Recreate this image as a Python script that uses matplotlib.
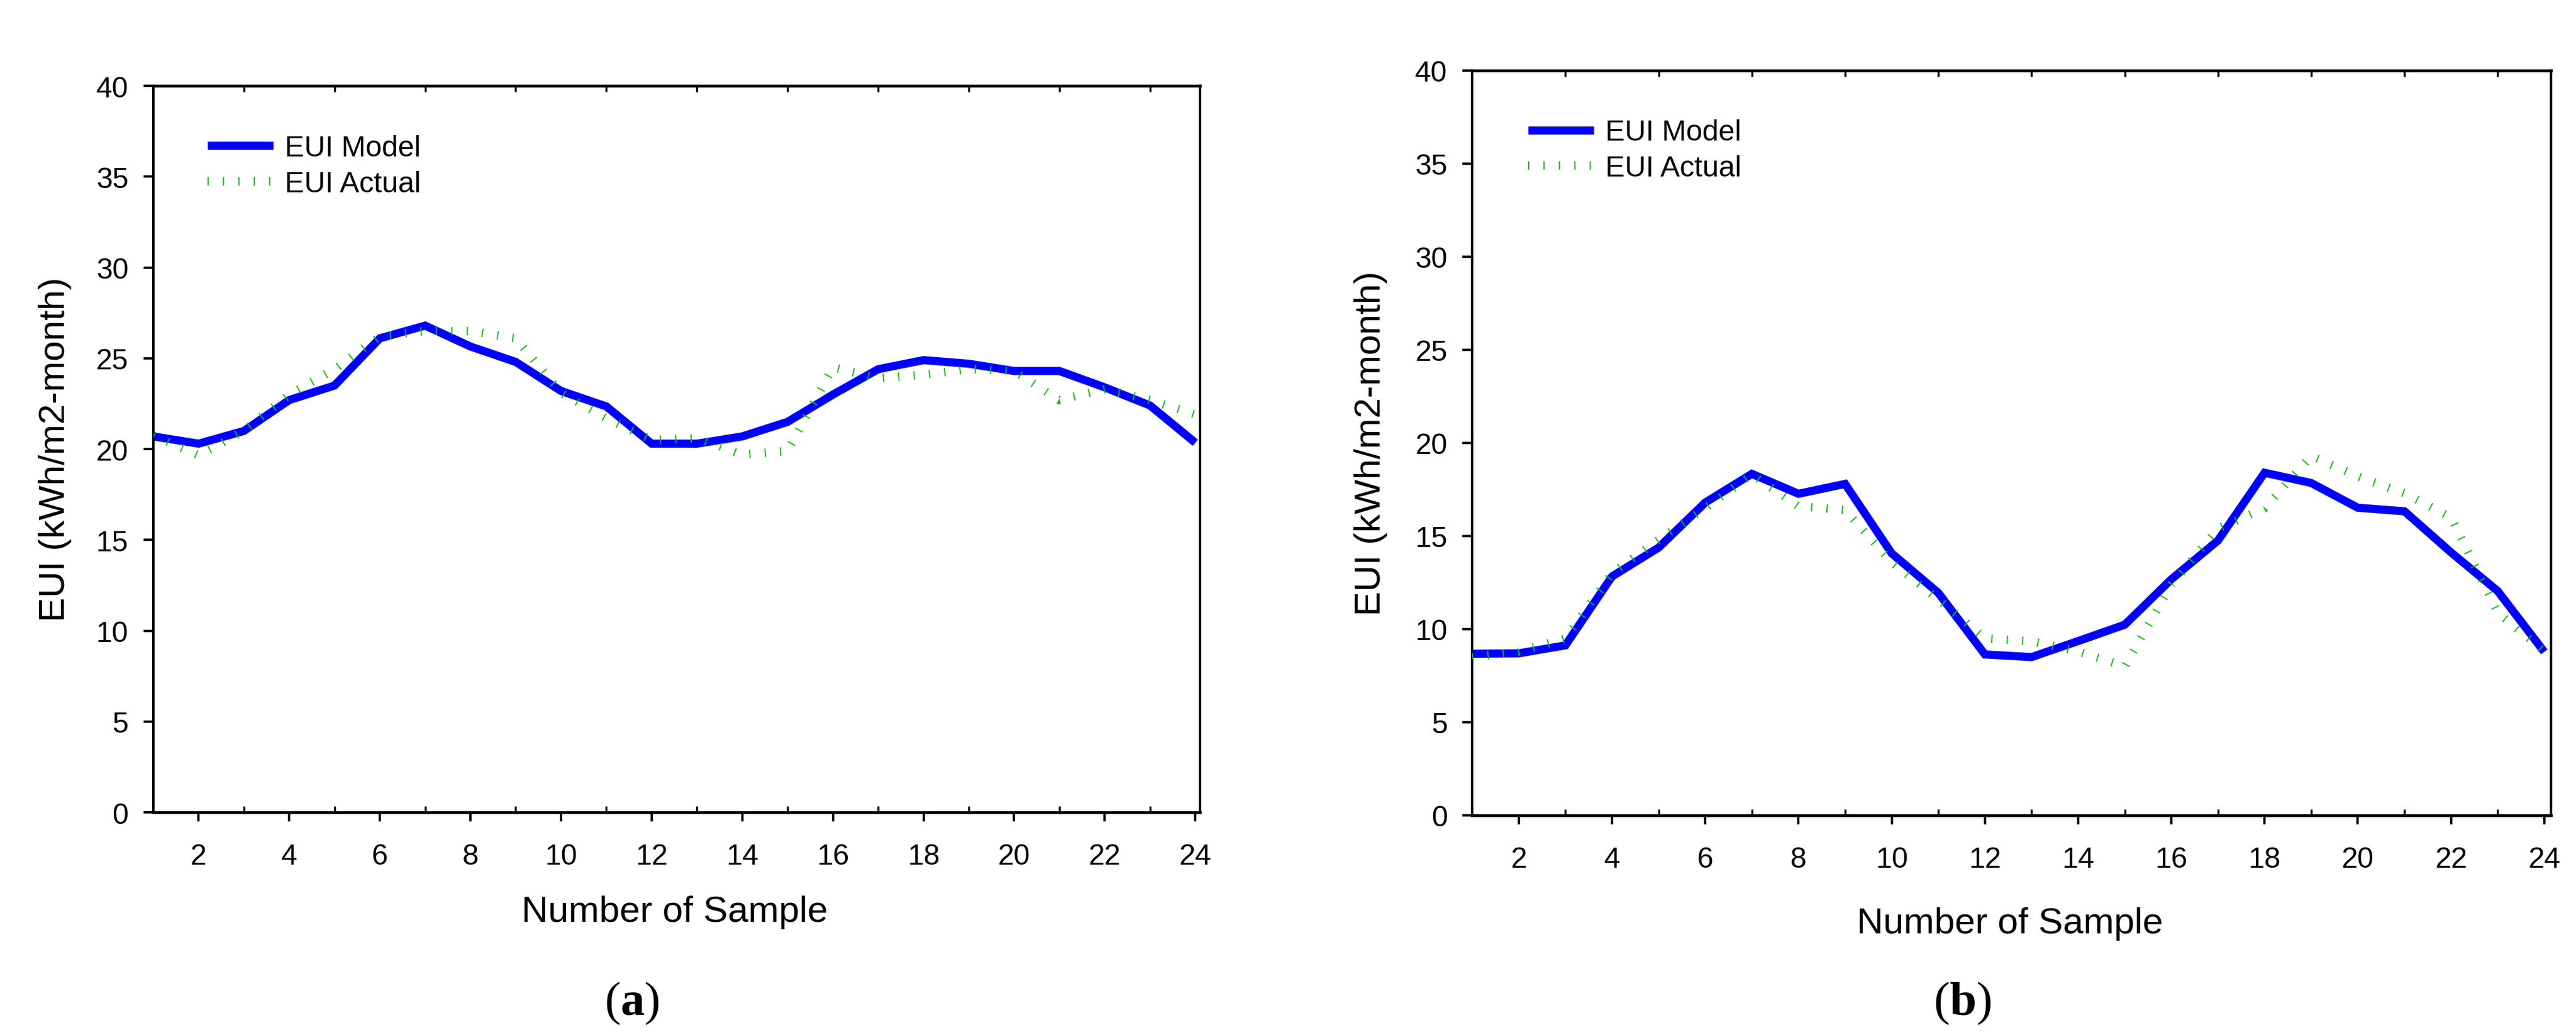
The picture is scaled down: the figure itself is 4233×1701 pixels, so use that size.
import matplotlib
matplotlib.use("Agg")
import matplotlib.pyplot as plt
from matplotlib.ticker import FixedLocator

plt.rcParams['font.family'] = ['Liberation Sans', 'DejaVu Sans']
plt.rcParams['mathtext.fontset'] = 'custom'
plt.rcParams['mathtext.rm'] = 'Liberation Serif'
plt.rcParams['mathtext.bf'] = 'Liberation Serif:bold'

# sample numbers
samples = list(range(1, 25))

# panel (a)
model_a = [20.7, 20.3, 21.0, 22.7, 23.5, 26.1, 26.8, 25.65, 24.8, 23.2, 22.35, 20.3,
           20.3, 20.7, 21.5, 23.0, 24.4, 24.9, 24.7, 24.3, 24.3, 23.4, 22.4, 20.35]
actual_a = [20.75, 19.65, 21.0, 23.0, 24.4, 26.2, 26.5, 26.5, 26.1, 23.1, 21.7, 20.5,
            20.6, 19.7, 19.9, 24.5, 23.9, 24.1, 24.4, 24.3, 22.7, 23.3, 22.7, 21.9]

# panel (b)
model_b = [8.68, 8.7, 9.13, 12.83, 14.38, 16.8, 18.34, 17.27, 17.8, 14.07, 11.95, 8.64,
           8.5, 9.36, 10.24, 12.68, 14.76, 18.4, 17.85, 16.52, 16.33, 14.12, 12.05, 8.78]
actual_b = [8.5, 8.8, 9.5, 13.0, 14.8, 16.5, 18.3, 16.6, 16.4, 13.6, 11.6, 9.5,
            9.35, 8.8, 8.0, 12.4, 15.4, 16.5, 19.3, 18.2, 17.3, 16.0, 10.9, 8.8]

fig = plt.figure(figsize=(14.11, 5.6733), dpi=300)

panels = [
    # data, axes rect, xlim right, legend anchor, xlabel y, caption x, caption
    (model_a, actual_a, [0.0595, 0.215, 0.4063, 0.7015], 24.1, (0.052, 0.933), -0.137, 0.2452, 'a'),
    (model_b, actual_b, [0.5715, 0.2121, 0.4189, 0.7192], 24.15, (0.052, 0.935), -0.145, 0.7617, 'b'),
]

green_lw = 3.3
for model, actual, rect, xmax, leg_anchor, xlab_y, cap_x, cap in panels:
    ax = fig.add_axes(rect)
    ax.plot(samples, model, color='#0000FF', lw=3.2, solid_capstyle='butt',
            solid_joinstyle='miter', label='EUI Model', zorder=2)
    ax.plot(samples, actual, color='#00C000', lw=green_lw,
            linestyle=(0, (0.14, 1.7)), dash_capstyle='butt',
            label='EUI Actual', zorder=3)

    ax.set_xlim(1, xmax)
    ax.set_ylim(0, 40)
    ax.xaxis.set_major_locator(FixedLocator(range(2, 25, 2)))
    ax.xaxis.set_minor_locator(FixedLocator(range(3, 24, 2)))
    ax.yaxis.set_major_locator(FixedLocator(range(0, 41, 5)))

    ax.tick_params(axis='x', which='major', direction='out', length=3.6, width=0.9,
                   pad=8.5, labelsize=11.5, top=False)
    ax.tick_params(axis='x', which='minor', direction='in', length=2.3, width=0.8,
                   top=True, bottom=True)
    ax.tick_params(axis='y', which='major', direction='out', length=3.8, width=0.9,
                   pad=6, labelsize=11.5, right=False)

    for side in ['top', 'bottom']:
        ax.spines[side].set_linewidth(1.1)
    for side in ['left', 'right']:
        ax.spines[side].set_linewidth(0.95)

    ax.set_xlabel('Number of Sample', fontsize=14.5)
    ax.set_ylabel('EUI (kWh/m2-month)', fontsize=14.5)
    ax.xaxis.set_label_coords(0.498, xlab_y)
    ax.xaxis.label.set_va('center')
    ax.yaxis.set_label_coords(-0.094, 0.5)
    ax.yaxis.label.set_va('center')

    ax.legend(loc='upper left', bbox_to_anchor=leg_anchor, frameon=False,
              fontsize=11.5, handlelength=2.25, handletextpad=0.4,
              labelspacing=0.28, borderpad=0, borderaxespad=0)

    fig.text(cap_x, 0.031, r'($\mathbf{' + cap + '}$)', family='Liberation Serif',
             fontsize=19, ha='center', va='center')

fig.savefig('out.png', dpi=300)
